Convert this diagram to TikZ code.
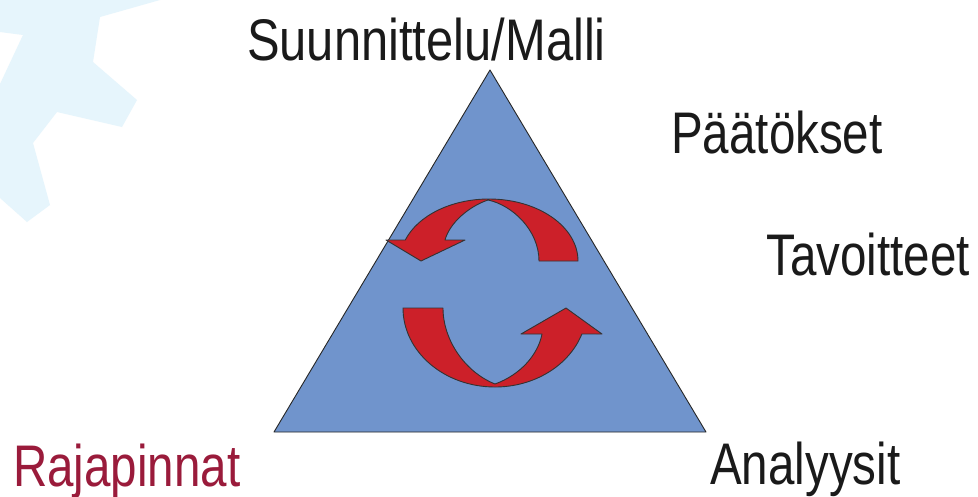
\documentclass[tikz,border=0pt]{standalone}
\usepackage{fontspec}
\setmainfont[FakeStretch=0.81]{Liberation Sans}
\definecolor{tri}{HTML}{7094CC}
\definecolor{arr}{HTML}{CC2029}
\definecolor{gear}{HTML}{E6F5FC}
\definecolor{wine}{HTML}{9A1B3B}
\definecolor{ink}{HTML}{1A1A1A}
\tikzset{
  lbl/.style={anchor=base west, inner sep=0pt, text=ink, font=\fontsize{58.7}{60}\selectfont},
  redarrow/.style={fill=arr, draw=black!80, line width=0.9pt, line join=round},
}
\begin{document}
\begin{tikzpicture}[x=1pt, y=-1pt]
\useasboundingbox (0,0) rectangle (978,496);
\fill[white] (0,0) rectangle (978,496);
% background gear fragment
\fill[gear] (0,0) -- (160,0) -- (100,17) -- (93,62) -- (137,100) -- (122,127) -- (57,112)
  -- (33,143) -- (50,205) -- (27,222) -- (0,198) -- (0,84) -- (23,35) -- (0,32) -- cycle;
% triangle
\filldraw[fill=tri, draw=black!85, line width=0.9pt, line join=round]
  (490,70) -- (706,432) -- (274,432) -- cycle;
% upper arrow
\draw[redarrow] (578,261) arc[start angle=0, end angle=160.2, x radius=89pt, y radius=62pt]
  -- (386,240) -- (421,261) -- (465,240) -- (445,240)
  .. controls (450,222) and (470,206) .. (488,200)
  .. controls (512,205) and (539,230) .. (539,261) -- cycle;
% lower arrow
\draw[redarrow] (403,308) arc[start angle=180, end angle=340.8, x radius=92pt, y radius=79pt]
  -- (602,334) -- (566,308) -- (521,334) -- (542,334)
  .. controls (538,355) and (520,375) .. (495,384)
  .. controls (465,372) and (443,340) .. (443,308) -- cycle;
% labels
\node[lbl] (suun) at (247,60) {\scalebox{1.028}[1]{Suunnittelu/Malli}};
\node[lbl] (paat) at (671,153) {Päätökset};
\node[lbl] (tavo) at (766,275) {Tavoitteet};
\node[lbl, text=wine] (raja) at (13,486) {Rajapinnat};
\node[lbl] (anal) at (710,484) {Analyysit};
\end{tikzpicture}
\end{document}
